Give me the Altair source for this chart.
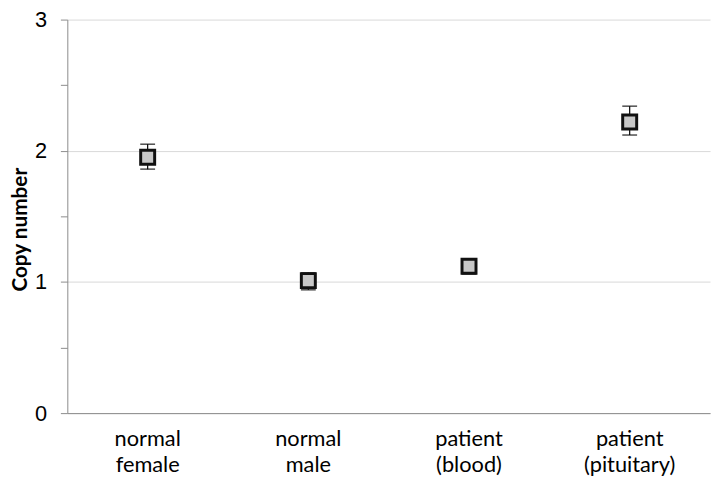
import altair as alt
import pandas as pd

categories = ["normal|female", "normal|male", "patient|(blood)", "patient|(pituitary)"]
values = [1.95, 1.01, 1.12, 2.22]
lower = [1.86, 0.94, 1.06, 2.12]
upper = [2.05, 1.07, 1.17, 2.34]

df = pd.DataFrame({"cat": categories, "value": values, "lo": lower, "hi": upper})

x_enc = alt.X(
    "cat:N",
    sort=categories,
    title=None,
    scale=alt.Scale(paddingInner=0, paddingOuter=0),
    axis=alt.Axis(
        labelExpr="split(datum.label, '|')",
        labelAngle=0,
        labelFont="Lato",
        labelFontSize=22,
        labelColor="#000000",
        labelPadding=16,
        labelLineHeight=26,
        ticks=False,
        domainColor="#8c8c8c",
        domainWidth=1,
        grid=False,
    ),
)

y_scale = alt.Scale(domain=[0, 3], nice=False)
y_axis = alt.Axis(
    values=[0, 0.5, 1, 1.5, 2, 2.5, 3],
    labelExpr="datum.value % 1 == 0 ? format(datum.value, 'd') : ''",
    labelFont="Liberation Sans",
    labelFontSize=22,
    labelColor="#000000",
    labelPadding=14,
    tickSize=7,
    tickColor="#8c8c8c",
    domainColor="#8c8c8c",
    grid=True,
    gridColor="#d9d9d9",
    gridWidth=1,
    gridOpacity={"condition": {"test": "datum.value % 1 != 0", "value": 0}, "value": 1},
    title="Copy number",
    titleFont="Lato",
    titleFontSize=21,
    titleFontWeight="bold",
    titleColor="#000000",
    titleAngle=-90,
    titleX=-47,
    titleY=212,
    titleAlign="center",
    titleBaseline="middle",
)

base = alt.Chart(df)

err = base.mark_rule(color="#000000", strokeWidth=1.2).encode(
    x=x_enc,
    y=alt.Y("lo:Q", scale=y_scale, axis=y_axis),
    y2="hi:Q",
)
cap_lo = base.mark_tick(color="#000000", thickness=1.5, size=15, orient="horizontal").encode(
    x=alt.X("cat:N", sort=categories), y=alt.Y("lo:Q", scale=y_scale)
)
cap_hi = base.mark_tick(color="#000000", thickness=1.5, size=15, orient="horizontal").encode(
    x=alt.X("cat:N", sort=categories), y=alt.Y("hi:Q", scale=y_scale)
)
pts = base.mark_point(
    shape="square", size=200, filled=True, fill="#c8c8c8", stroke="#111111",
    strokeWidth=3, opacity=1, fillOpacity=1,
).encode(
    x=alt.X("cat:N", sort=categories), y=alt.Y("value:Q", scale=y_scale)
)

chart = alt.layer(err, cap_lo, cap_hi, pts).properties(
    width=650,
    height=398,
    autosize=alt.AutoSizeParams(type="none"),
    padding={"left": 60, "top": 9, "right": 2, "bottom": 72},
).configure_view(stroke=None)

chart.save("out.html", embed_options={"renderer": "svg", "actions": False})
